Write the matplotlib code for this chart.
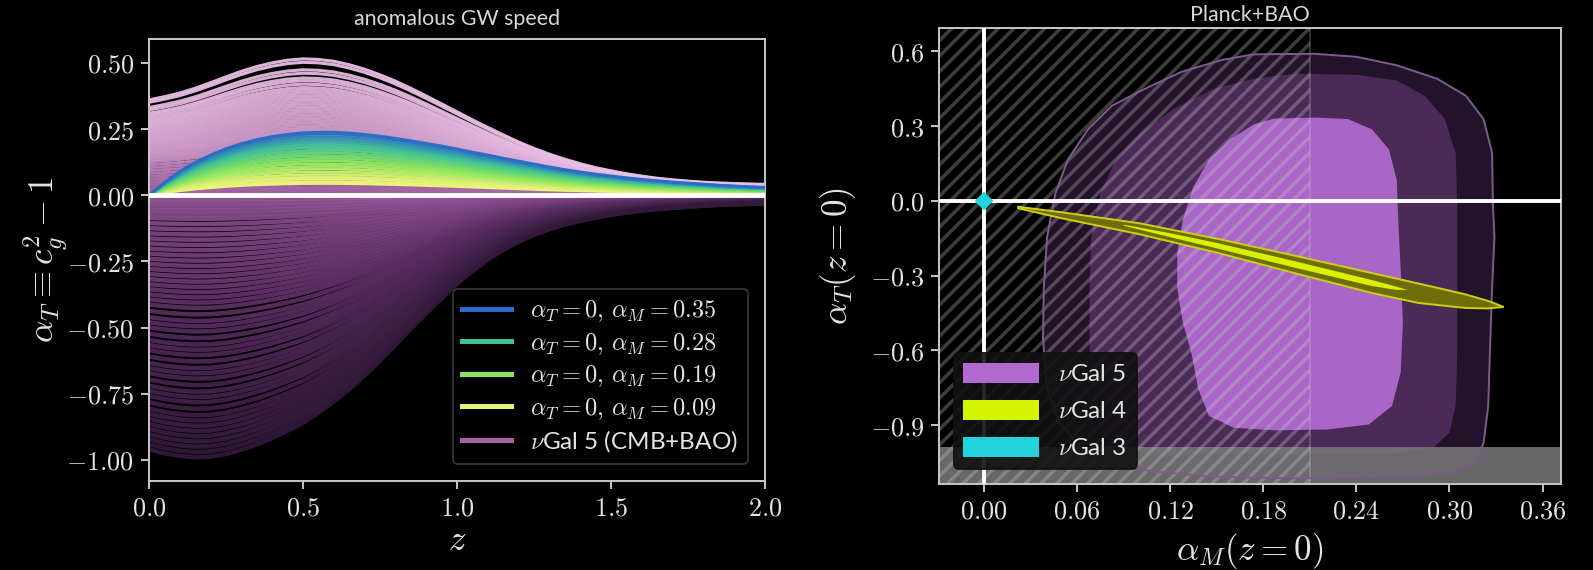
import numpy as np
import matplotlib.pyplot as plt
from matplotlib.colors import LinearSegmentedColormap
from matplotlib.lines import Line2D
from matplotlib.patches import Patch
from matplotlib.ticker import FuncFormatter

plt.rcParams['mathtext.fontset'] = 'cm'
plt.rcParams['font.family'] = ['Lato', 'DejaVu Sans']
plt.rcParams['hatch.linewidth'] = 1.8

# LEFT PANEL DATA ==========================================================
z = [0.00, 0.05, 0.10, 0.15, 0.20, 0.25, 0.30, 0.35, 0.40, 0.45, 0.50,
     0.55, 0.60, 0.65, 0.70, 0.75, 0.80, 0.85, 0.90, 0.95, 1.00,
     1.05, 1.10, 1.15, 1.20, 1.25, 1.30, 1.35, 1.40, 1.45, 1.50,
     1.55, 1.60, 1.65, 1.70, 1.75, 1.80, 1.85, 1.90, 1.95, 2.00]

# upper envelope of the positive nuGal 5 curves
gal5_top = [0.360, 0.372, 0.386, 0.404, 0.425, 0.447, 0.468, 0.486, 0.500, 0.510, 0.515,
            0.513, 0.506, 0.493, 0.476, 0.455, 0.431, 0.404, 0.375, 0.345, 0.315,
            0.285, 0.256, 0.228, 0.201, 0.177, 0.155, 0.136, 0.119, 0.104, 0.092,
            0.081, 0.072, 0.064, 0.058, 0.053, 0.049, 0.046, 0.044, 0.042, 0.041]

# lower envelope of the negative nuGal 5 curves
gal5_bot = [-0.960, -0.975, -0.985, -0.990, -0.988, -0.978, -0.962, -0.942, -0.918, -0.890, -0.860,
            -0.822, -0.780, -0.733, -0.682, -0.625, -0.565, -0.505, -0.447, -0.390, -0.335,
            -0.287, -0.244, -0.207, -0.176, -0.150, -0.129, -0.111, -0.097, -0.085, -0.075,
            -0.066, -0.059, -0.053, -0.048, -0.044, -0.040, -0.037, -0.035, -0.033, -0.032]

# alpha_T = 0, alpha_M = 0.35 curve
am_ref = 0.35
am_curve = [0.000, 0.048, 0.090, 0.124, 0.152, 0.176, 0.195, 0.210, 0.222, 0.230, 0.236,
            0.238, 0.238, 0.235, 0.230, 0.223, 0.215, 0.206, 0.196, 0.186, 0.175,
            0.163, 0.152, 0.140, 0.129, 0.118, 0.107, 0.097, 0.088, 0.080, 0.073,
            0.066, 0.060, 0.055, 0.050, 0.046, 0.042, 0.038, 0.035, 0.032, 0.030]

pos_scale = [1.0, 0.975, 0.92, 0.895, 0.86, 0.84, 0.815, 0.79, 0.77, 0.75, 0.73, 0.71,
             0.69, 0.67, 0.65, 0.63, 0.61, 0.59, 0.57, 0.55, 0.53, 0.51, 0.49, 0.47,
             0.45, 0.43, 0.41, 0.39, 0.37, 0.35, 0.32, 0.29, 0.26, 0.23, 0.20, 0.17,
             0.14, 0.11, 0.08, 0.06, 0.045, 0.03, 0.015]
neg_scale = [0.015, 0.03, 0.045, 0.06, 0.075, 0.09, 0.11, 0.13, 0.15, 0.17, 0.19, 0.21,
             0.23, 0.25, 0.27, 0.29, 0.31, 0.33, 0.35, 0.37, 0.39, 0.41, 0.43, 0.455,
             0.48, 0.5, 0.52, 0.545, 0.57, 0.59, 0.61, 0.635, 0.66, 0.68, 0.7, 0.725,
             0.75, 0.77, 0.79, 0.815, 0.84, 0.86, 0.88, 0.9, 0.92, 0.94, 0.96, 0.98, 1.0]
alpha_M = [0.35, 0.34, 0.325, 0.31, 0.295, 0.28, 0.265, 0.25, 0.235, 0.22, 0.205,
           0.19, 0.175, 0.16, 0.145, 0.13, 0.115, 0.10, 0.09, 0.075, 0.065]
legend_aM = [0.35, 0.28, 0.19, 0.09]

# RIGHT PANEL DATA =========================================================
gal5_3s_x = [0.174, 0.2135, 0.240, 0.266, 0.292, 0.3105, 0.322, 0.3275, 0.328, 0.329, 0.3275,
             0.326, 0.325, 0.322, 0.316, 0.300, 0.253, 0.200, 0.148, 0.109, 0.0825, 0.064,
             0.0485, 0.0406, 0.038, 0.0385, 0.0406, 0.046, 0.054, 0.067, 0.0825, 0.1035,
             0.127, 0.153]
gal5_3s_y = [0.588, 0.590, 0.578, 0.544, 0.490, 0.422, 0.328, 0.192, -0.011, -0.146, -0.349,
             -0.620, -0.823, -0.972, -1.053, -1.094, -1.107, -1.114, -1.107, -1.087, -1.053,
             -0.999, -0.891, -0.755, -0.552, -0.349, -0.146, 0.030, 0.165, 0.287, 0.382,
             0.449, 0.517, 0.565]
gal5_2s_x = [0.200, 0.240, 0.266, 0.284, 0.297, 0.304, 0.305, 0.305, 0.305, 0.304, 0.300,
             0.2895, 0.266, 0.200, 0.122, 0.090, 0.077, 0.071, 0.068, 0.068, 0.069,
             0.075, 0.085, 0.101, 0.122, 0.148, 0.174]
gal5_2s_y = [0.510, 0.506, 0.483, 0.422, 0.328, 0.192, -0.011, -0.349, -0.620, -0.823, -0.931,
             -0.992, -1.013, -1.019, -1.019, -1.006, -0.945, -0.823, -0.620, -0.349, -0.146,
             0.030, 0.165, 0.273, 0.368, 0.449, 0.490]
gal5_1s_x = [0.187, 0.2135, 0.2345, 0.250, 0.261, 0.266, 0.267, 0.2686, 0.270, 0.2686, 0.263,
             0.248, 0.221, 0.187, 0.161, 0.145, 0.138, 0.134, 0.128, 0.1245, 0.1245,
             0.128, 0.135, 0.145, 0.1585, 0.174]
gal5_1s_y = [0.330, 0.334, 0.328, 0.287, 0.206, 0.084, -0.079, -0.282, -0.485, -0.688, -0.823,
             -0.898, -0.918, -0.921, -0.911, -0.864, -0.755, -0.620, -0.485, -0.349, -0.214,
             -0.079, 0.057, 0.165, 0.246, 0.307]

# nuGal 4: upper edge left->right, then lower edge right->left
gal4_2s_x = [0.022, 0.05, 0.10, 0.15, 0.20, 0.25, 0.28, 0.31, 0.325, 0.335,
             0.325, 0.31, 0.28, 0.25, 0.20, 0.15, 0.10, 0.05, 0.022]
gal4_2s_y = [-0.024, -0.046, -0.090, -0.152, -0.220, -0.290, -0.332, -0.375, -0.402, -0.426,
             -0.432, -0.430, -0.410, -0.370, -0.290, -0.208, -0.134, -0.070, -0.030]
gal4_1s_x = [0.09, 0.12, 0.15, 0.20, 0.25, 0.265, 0.273,
             0.265, 0.25, 0.20, 0.15, 0.12, 0.09]
gal4_1s_y = [-0.096, -0.130, -0.169, -0.242, -0.318, -0.343, -0.358,
             -0.357, -0.342, -0.268, -0.191, -0.146, -0.100]
gal3_pt = (0.0, 0.0)

hatch_xmax = 0.21
band_ymax = -0.99

# colours
gal5_line_stops = [(0.0, '#331a3b'), (0.35, '#5e2f66'), (0.6, '#8c4f90'),
                   (0.66, '#a464a6'), (0.8, '#d09ccc'), (1.0, '#ecc4e8')]
am_stops = [(0.0, '#eef580'), (0.12, '#e2f173'), (0.45, '#86e45c'),
            (0.76, '#3dbf98'), (1.0, '#2b6cc6')]

gal5_cmap = LinearSegmentedColormap.from_list('gal5', gal5_line_stops)
am_cmap = LinearSegmentedColormap.from_list('am', am_stops)
am_lo, am_hi = 0.06, 0.35
v_lo, v_hi = -1.0, 0.55


def fmt(nd):
    def f(v, p):
        if abs(v) < 1e-9:
            v = 0.0
        return '$' + f'{v:.{nd}f}' + '$'
    return FuncFormatter(f)


def style(ax):
    ax.set_facecolor('black')
    for s in ax.spines.values():
        s.set_color('#c8c8c8')
        s.set_linewidth(1.0)
    ax.tick_params(colors='#c8c8c8', labelcolor='#e4e4e4', labelsize=13.5,
                   length=4, width=1.0)


fig = plt.figure(figsize=(1593 / 140, 570 / 140), dpi=140, facecolor='black')

# LEFT ====================================================================
ax = fig.add_axes([0.0935, 0.1561, 0.3867, 0.7754])
style(ax)
zz = np.array(z)
for a in neg_scale:
    y = a * np.array(gal5_bot)
    c = gal5_cmap((y.min() - v_lo) / (v_hi - v_lo))
    ax.plot(zz, y, color=c, lw=2.3, alpha=0.9, zorder=1)
for a in pos_scale[::-1]:
    y = a * np.array(gal5_top)
    c = gal5_cmap((y.max() - v_lo) / (v_hi - v_lo))
    ax.plot(zz, y, color=c, lw=1.6, alpha=0.95, zorder=2)
for am in alpha_M[::-1]:
    y = am / am_ref * np.array(am_curve)
    ax.plot(zz, y, color=am_cmap((am - am_lo) / (am_hi - am_lo)), lw=1.4, zorder=3)
ax.axhline(0, color='white', lw=2.5, zorder=4)

ax.set_xlim(0, 2)
ax.set_ylim(-1.08, 0.59)
ax.set_xticks([0, 0.5, 1.0, 1.5, 2.0])
ax.set_yticks([-1.0, -0.75, -0.5, -0.25, 0.0, 0.25, 0.5])
ax.xaxis.set_major_formatter(fmt(1))
ax.yaxis.set_major_formatter(fmt(2))
ax.set_xlabel('$z$', fontsize=18, color='#e4e4e4', labelpad=2)
ax.set_ylabel(r'$\alpha_T \equiv c_g^2 - 1$', fontsize=18, color='#e4e4e4', labelpad=-2)
ax.set_title('anomalous GW speed', fontsize=11, color='#d8d8d8', pad=7)

handles = [Line2D([], [], color=am_cmap((am - am_lo) / (am_hi - am_lo)), lw=2.6)
           for am in legend_aM]
labels = [r'$\alpha_T = 0,\, \alpha_M = %.2f$' % am for am in legend_aM]
handles.append(Line2D([], [], color='#a4609f', lw=2.6))
labels.append(r'$\nu$Gal 5 (CMB+BAO)')
leg = ax.legend(handles, labels, loc='lower right', fontsize=12.5, facecolor='black',
                edgecolor='#3a3a3a', framealpha=0.85, labelcolor='#e4e4e4',
                borderaxespad=0.7, labelspacing=0.28)

# RIGHT ===================================================================
ax2 = fig.add_axes([0.5895, 0.1516, 0.3905, 0.7986])
style(ax2)
xl = (-0.029, 0.372)
yl = (-1.135, 0.692)

ax2.fill(gal5_3s_x, gal5_3s_y, facecolor='#22132a', lw=0, zorder=1)
ax2.fill(gal5_2s_x, gal5_2s_y, facecolor='#4c2a58', lw=0, zorder=1.1)
ax2.fill(gal5_1s_x, gal5_1s_y, facecolor='#a966c6', lw=0, zorder=1.2)
ax2.fill(gal5_3s_x, gal5_3s_y, facecolor='none', edgecolor='#7d5c8c', lw=1.0, zorder=4)

ax2.axhspan(yl[0], band_ymax, color='#7a7a7a', alpha=0.85, lw=0, zorder=2)
ax2.axvspan(xl[0], hatch_xmax, facecolor='none', edgecolor=(0.8, 0.8, 0.8, 0.3),
            hatch='///', lw=0.8, zorder=3)

ax2.axvline(0, color='white', lw=2, zorder=5)
ax2.axhline(0, color='white', lw=2, zorder=5)

ax2.fill(gal4_2s_x, gal4_2s_y, facecolor='#6e6e08', edgecolor='#cfcf10', lw=1.0, zorder=6)
ax2.fill(gal4_1s_x, gal4_1s_y, facecolor='#d6f200', lw=0, zorder=7)
ax2.plot(*gal3_pt, marker='D', ms=6, color='#22d3dc', zorder=8)

ax2.set_xlim(*xl)
ax2.set_ylim(*yl)
ax2.set_xticks([0, 0.06, 0.12, 0.18, 0.24, 0.30, 0.36])
ax2.set_yticks([-0.9, -0.6, -0.3, 0.0, 0.3, 0.6])
ax2.xaxis.set_major_formatter(fmt(2))
ax2.yaxis.set_major_formatter(fmt(1))
ax2.set_xlabel(r'$\alpha_M(z=0)$', fontsize=18, color='#e4e4e4', labelpad=4)
ax2.set_ylabel(r'$\alpha_T(z=0)$', fontsize=18, color='#e4e4e4', labelpad=6)
ax2.set_title('Planck+BAO', fontsize=11, color='#d8d8d8', pad=4)

h2 = [Patch(facecolor='#b36ad0', edgecolor='none'),
      Patch(facecolor='#d4f500', edgecolor='none'),
      Patch(facecolor='#22d3dc', edgecolor='none')]
l2 = [r'$\nu$Gal 5', r'$\nu$Gal 4', r'$\nu$Gal 3']
leg2 = ax2.legend(h2, l2, loc='lower left', fontsize=12.5, facecolor='#111111',
                  edgecolor='#111111', framealpha=0.9, labelcolor='#e4e4e4',
                  borderaxespad=0.6, handlelength=3.1, handleheight=0.9,
                  labelspacing=0.6)
leg2.set_zorder(10)

fig.savefig('out.png', dpi=140, facecolor='black')
